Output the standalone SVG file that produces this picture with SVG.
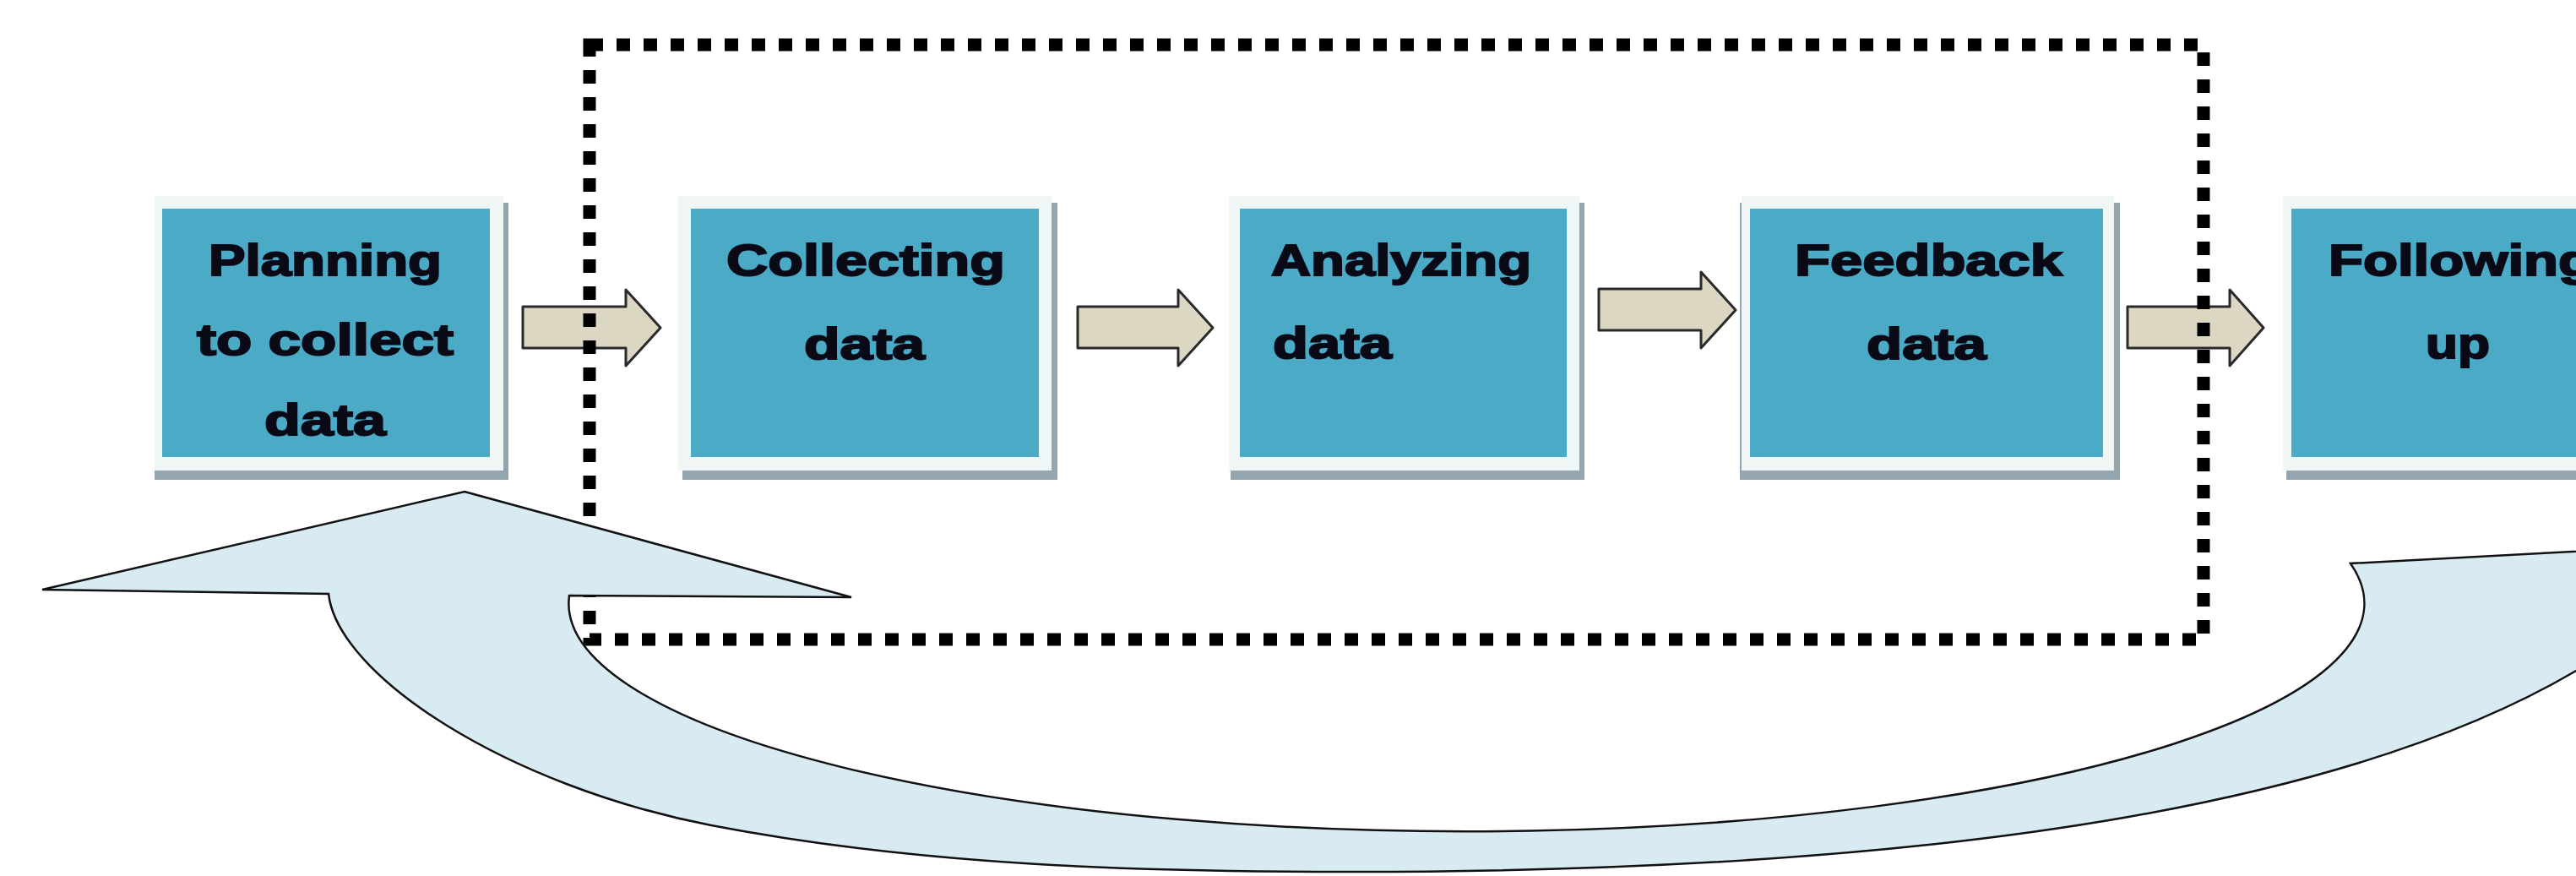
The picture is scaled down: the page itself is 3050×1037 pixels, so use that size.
<svg xmlns="http://www.w3.org/2000/svg" width="3050" height="1037" viewBox="0 0 3050 1037">
<style>
.shadow{fill:#93a6b0}
.frame{fill:#f0f5f6}
.blue{fill:#4babc7}
.lbl{font-family:"Liberation Sans",Arial,sans-serif;font-weight:bold;font-size:52px;fill:#0a0a16;stroke:#0a0a16;stroke-width:2}
.sarrow{fill:#dcd7c3;stroke:#2a2a2a;stroke-width:3;stroke-linejoin:round}
.dots{fill:none;stroke:#000;stroke-width:15;stroke-dasharray:16 16}
.big{fill:#d9ebf2;stroke:#111;stroke-width:2.5;stroke-linejoin:miter}
</style>
<rect width="3050" height="1037" fill="#fff"/>

<g id="node-planning">
<rect class="shadow" x="183" y="240" width="419" height="328"/>
<rect class="frame" x="183" y="232" width="413" height="325"/>
<rect class="blue" x="192" y="247" width="388" height="294"/>
<text class="lbl" x="247" y="326" textLength="276" lengthAdjust="spacingAndGlyphs">Planning</text>
<text class="lbl" x="233" y="420" textLength="304" lengthAdjust="spacingAndGlyphs">to collect</text>
<text class="lbl" x="313" y="515" textLength="144" lengthAdjust="spacingAndGlyphs">data</text>
</g>

<g id="node-collecting">
<rect class="shadow" x="808" y="240" width="444" height="328"/>
<rect class="frame" x="803" y="232" width="442" height="325"/>
<rect class="blue" x="818" y="247" width="412" height="294"/>
<text class="lbl" x="860" y="326" textLength="330" lengthAdjust="spacingAndGlyphs">Collecting</text>
<text class="lbl" x="952" y="425" textLength="143" lengthAdjust="spacingAndGlyphs">data</text>
</g>

<g id="node-analyzing">
<rect class="shadow" x="1457" y="240" width="419" height="328"/>
<rect class="frame" x="1455" y="232" width="415" height="325"/>
<rect class="blue" x="1468" y="247" width="387" height="294"/>
<text class="lbl" x="1505" y="326" textLength="308" lengthAdjust="spacingAndGlyphs">Analyzing</text>
<text class="lbl" x="1507" y="424" textLength="141" lengthAdjust="spacingAndGlyphs">data</text>
</g>

<g id="node-feedback">
<rect class="shadow" x="2060" y="240" width="450" height="328"/>
<rect class="frame" x="2062" y="232" width="441" height="325"/>
<rect class="blue" x="2072" y="247" width="418" height="294"/>
<text class="lbl" x="2125" y="326" textLength="317" lengthAdjust="spacingAndGlyphs">Feedback</text>
<text class="lbl" x="2210" y="425" textLength="142" lengthAdjust="spacingAndGlyphs">data</text>
</g>

<g id="node-following">
<rect class="shadow" x="2707" y="240" width="420" height="328"/>
<rect class="frame" x="2703" y="232" width="420" height="325"/>
<rect class="blue" x="2713" y="247" width="400" height="294"/>
<text class="lbl" x="2757" y="326" textLength="313" lengthAdjust="spacingAndGlyphs">Following</text>
<text class="lbl" x="2872" y="424" textLength="76" lengthAdjust="spacingAndGlyphs">up</text>
</g>

<g id="connectors">
<path class="sarrow" d="M619 363 L741 363 L741 343 L782 388 L741 433 L741 412 L619 412 Z"/>
<path class="sarrow" d="M1276 363 L1395 363 L1395 343 L1436 388 L1395 433 L1395 412 L1276 412 Z"/>
<path class="sarrow" d="M1893 342 L2014 342 L2014 322 L2055 367 L2014 412 L2014 391 L1893 391 Z"/>
<path class="sarrow" d="M2519 363 L2640 363 L2640 343 L2680 388 L2640 433 L2640 412 L2519 412 Z"/>
</g>

<g id="group-boundary">
<rect class="dots" x="698" y="53" width="1911" height="704"/>
</g>

<g id="feedback-loop">
<path class="big" d="M550 582 L1008 707 L674 705 A1063 270 0 1 0 2783 667 L3160 647 L3160 715 C2880 965 2250 1032 1600 1032 C1350 1032 1092 1025 842 977 C600 930 400 800 389 703 L50 698 Z"/>
</g>
</svg>
